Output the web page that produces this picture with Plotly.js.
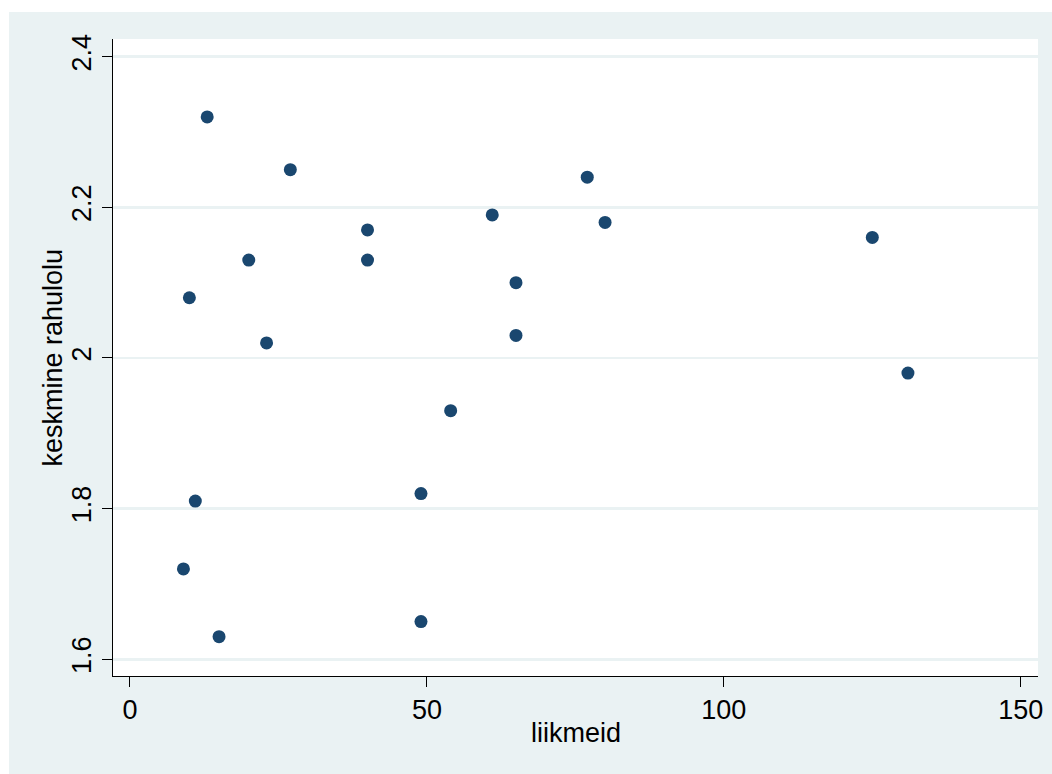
<!DOCTYPE html>
<html>
<head>
<meta charset="utf-8">
<script src="https://cdn.plot.ly/plotly-3.0.1.min.js"></script>
<style>
  html, body { margin: 0; padding: 0; background: #ffffff; width: 1052px; height: 774px; overflow: hidden; }
  #chart { position: absolute; left: 9px; top: 12px; width: 1043px; height: 762px; }
</style>
</head>
<body>
<div id="chart"></div>
<script>
// Data
const liikmeid = [13, 27, 20, 10, 23, 40, 40, 61, 77, 80, 65, 65, 54, 49, 49, 11, 9, 15, 125, 131];
const rahulolu = [2.32, 2.25, 2.13, 2.08, 2.02, 2.17, 2.13, 2.19, 2.24, 2.18, 2.10, 2.03, 1.93, 1.82, 1.65, 1.81, 1.72, 1.63, 2.16, 1.98];
const xTickVals = [0, 50, 100, 150];
const xTickText = ["0", "50", "100", "150"];
const yTickVals = [1.6, 1.8, 2.0, 2.2, 2.4];
const yTickText = ["1.6", "1.8", "2", "2.2", "2.4"];
const xTitle = "liikmeid";
const yTitle = "keskmine rahulolu";

const bg = "#eaf2f3";
const fontFam = "Liberation Sans, Arial, Helvetica, sans-serif";
const titleFont = { family: fontFam, size: 27, color: "#000000" };

const trace = {
  type: "scatter",
  mode: "markers",
  x: liikmeid,
  y: rahulolu,
  marker: { color: "#1a476f", size: 13, line: { width: 0 } },
  hoverinfo: "x+y"
};

const layout = {
  width: 1043,
  height: 762,
  paper_bgcolor: bg,
  plot_bgcolor: "#ffffff",
  showlegend: false,
  margin: { l: 104, r: 14, t: 27, b: 98, pad: 0 },
  font: { family: fontFam, color: "#000000", size: 27 },
  xaxis: {
    range: [-2.86, 152.9],
    tickmode: "array",
    tickvals: xTickVals,
    ticktext: xTickText,
    ticks: "outside",
    ticklen: 10,
    tickwidth: 1,
    tickcolor: "#000000",
    showgrid: false,
    zeroline: false,
    showline: true,
    linecolor: "#000000",
    linewidth: 1,
    tickfont: { family: fontFam, size: 27, color: "#000000" },
    automargin: false
  },
  yaxis: {
    range: [1.5778, 2.4235],
    tickmode: "array",
    tickvals: yTickVals,
    ticktext: yTickText,
    tickangle: -90,
    ticks: "outside",
    ticklen: 10,
    tickwidth: 1,
    tickcolor: "#000000",
    showgrid: true,
    gridcolor: bg,
    gridwidth: 2.5,
    zeroline: false,
    showline: true,
    linecolor: "#000000",
    linewidth: 1,
    tickfont: { family: fontFam, size: 27, color: "#000000" },
    automargin: false
  },
  annotations: [
    { text: xTitle, xref: "paper", yref: "paper", x: 0.5, y: -0.0895,
      xanchor: "center", yanchor: "middle", showarrow: false, font: titleFont },
    { text: yTitle, xref: "paper", yref: "paper", x: -0.0659, y: 0.5,
      xanchor: "center", yanchor: "middle", textangle: -90, showarrow: false, font: titleFont }
  ]
};

Plotly.newPlot("chart", [trace], layout, { displayModeBar: false, staticPlot: true });
</script>
</body>
</html>
